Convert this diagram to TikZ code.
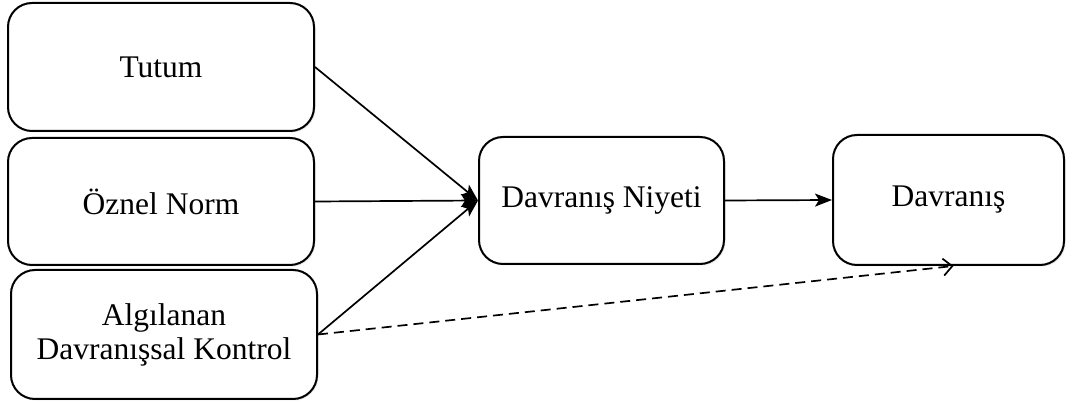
\documentclass[tikz,border=0pt]{standalone}
\usepackage{fontspec}
\setmainfont{Liberation Serif}
\usetikzlibrary{arrows.meta,shadows}
\begin{document}
\begin{tikzpicture}[x=1pt,y=-1pt,
  box/.style={draw=black, line width=2pt, rounded corners=24pt, fill=white,
    drop shadow={opacity=0.18, shadow xshift=1.5pt, shadow yshift=-1.5pt},
    align=center, font=\fontsize{31.5}{34}\selectfont, inner sep=0pt},
  link/.style={line width=1.7pt, -{Stealth[length=17pt,width=13pt,inset=4pt]}},
  hint/.style={line width=1.7pt, dash pattern=on 10pt off 6pt,
    -{Straight Barb[length=9pt,width=17pt,line width=1.7pt]}}]
\useasboundingbox (0,0) rectangle (1072,403);

% left column: the three determinants
\node[box, minimum width=306pt, minimum height=128pt] (tutum) at (161,67) {Tutum};
\node[box, minimum width=306pt, minimum height=127pt] (norm) at (161,201.5) {Öznel Norm};
\node[box, minimum width=306pt, minimum height=129pt] (kontrol) at (164,334.5)
  {Algılanan\\Davranışsal Kontrol};

% intention and behaviour
\node[box, minimum width=245pt, minimum height=127pt] (niyet) at (601.5,200.5) {Davranış Niyeti};
\node[box, minimum width=231pt, minimum height=130pt] (davranis) at (948.5,200) {Davranış};

% connectors
\draw[link] (tutum.east) -- (niyet.west);
\draw[link] (norm.east) -- (niyet.west);
\draw[link] (kontrol.east) -- (niyet.west);
\draw[link] (niyet.east) -- (davranis.west);
\draw[hint] (kontrol.east) -- ([xshift=5pt]davranis.south);
\end{tikzpicture}
\end{document}
